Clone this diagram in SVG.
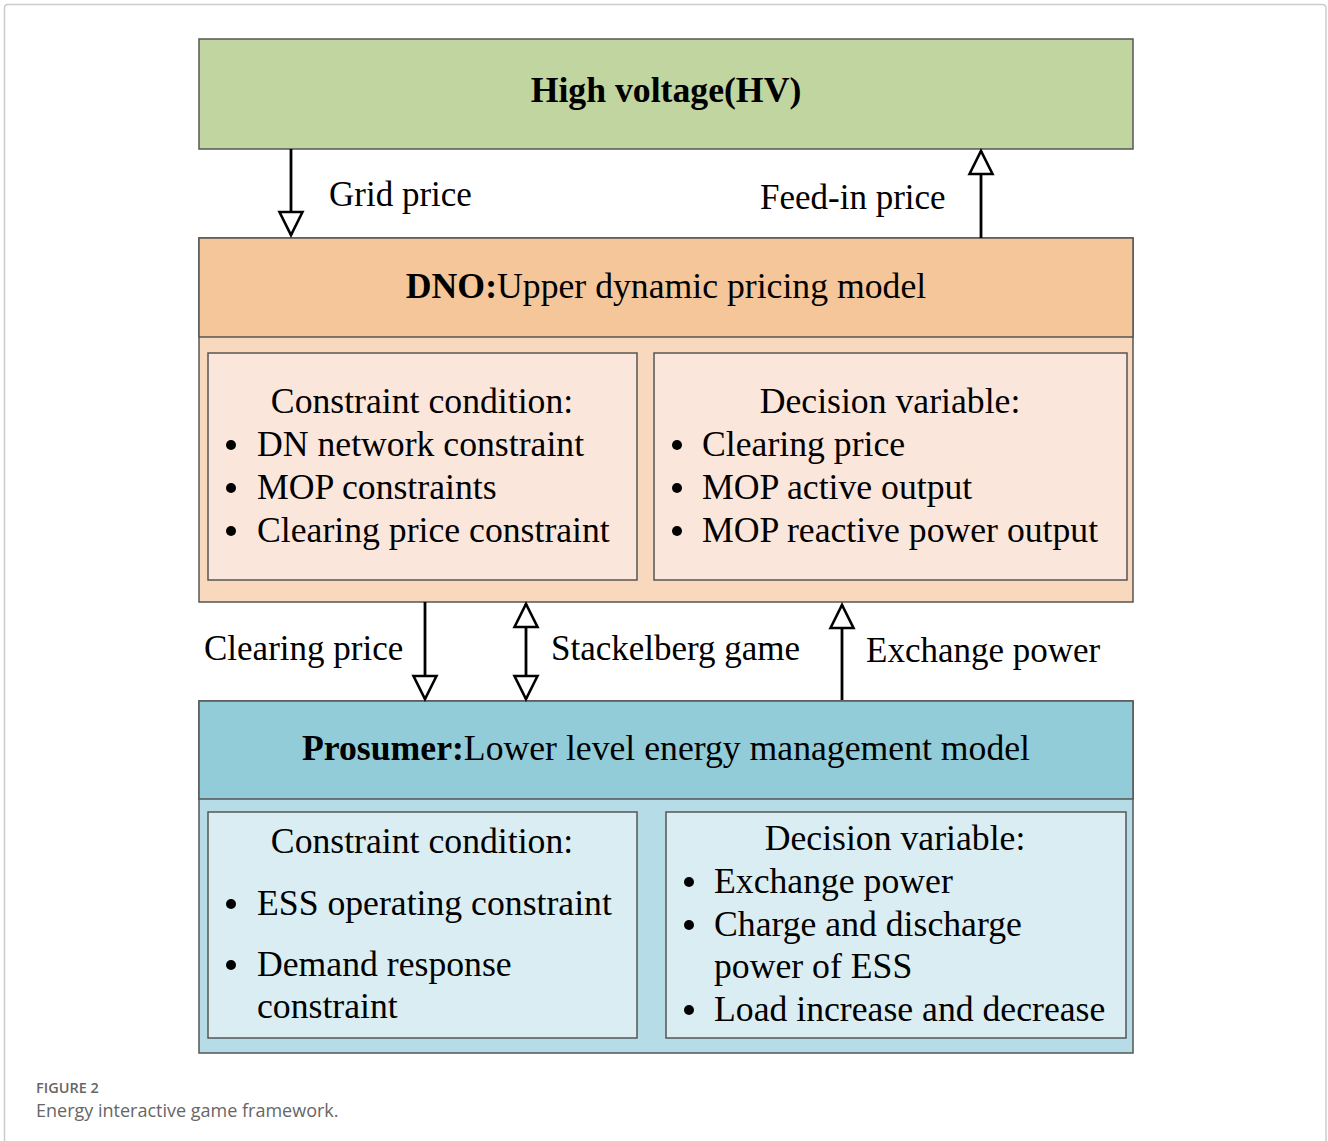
<svg xmlns="http://www.w3.org/2000/svg" width="1328" height="1141" viewBox="0 0 1328 1141">
<style>
.t{font-family:"Liberation Serif","Times New Roman",serif;font-size:35.7px;fill:#000}
.l{font-size:35px}
.c{text-anchor:middle}
.b{font-weight:bold}
.box{stroke:#555;stroke-width:1.5}
.conn{stroke:#000;stroke-width:2.8;fill:none}
.cap{font-family:"Open Sans","Noto Sans",sans-serif;fill:#666}
</style>
<defs>
<marker id="ah" markerUnits="userSpaceOnUse" markerWidth="30" markerHeight="30" refX="25" refY="13" orient="auto-start-reverse" overflow="visible">
<path d="M2,1.5 L25,13 L2,24.5 Z" fill="#fff" stroke="#000" stroke-width="2.6" stroke-linejoin="miter"/>
</marker>
</defs>
<rect x="0" y="0" width="1328" height="1141" fill="#fff"/>
<path d="M4.5,1141 V8 Q4.5,4.5 8,4.5 H1322 Q1326,4.5 1326,8 V1141" fill="none" stroke="#ccc" stroke-width="1.5"/>

<g id="hv">
<rect class="box" x="199" y="39" width="934" height="110" fill="#c0d59f"/>
<text class="t c b" x="666" y="102">High voltage(HV)</text>
</g>

<g id="dno">
<rect class="box" x="199" y="238" width="934" height="364" fill="#f9d9bd"/>
<rect class="box" x="199" y="238" width="934" height="99" fill="#f4c69a"/>
<text class="t c" x="666" y="298"><tspan class="b">DNO:</tspan>Upper dynamic pricing model</text>
</g>

<g id="dno-constraint">
<rect class="box" x="208" y="353" width="429" height="227" fill="#fbe6dc"/>
<text class="t c" x="422" y="413">Constraint condition:</text>
<circle cx="231" cy="445" r="5"/><text class="t" x="257" y="456">DN network constraint</text>
<circle cx="231" cy="488" r="5"/><text class="t" x="257" y="499">MOP constraints</text>
<circle cx="231" cy="531" r="5"/><text class="t" x="257" y="542">Clearing price constraint</text>
</g>

<g id="dno-decision">
<rect class="box" x="654" y="353" width="473" height="227" fill="#fbe6dc"/>
<text class="t c" x="890" y="413">Decision variable:</text>
<circle cx="677" cy="445" r="5"/><text class="t" x="702" y="456">Clearing price</text>
<circle cx="677" cy="488" r="5"/><text class="t" x="702" y="499">MOP active output</text>
<circle cx="677" cy="531" r="5"/><text class="t" x="702" y="542">MOP reactive power output</text>
</g>

<g id="prosumer">
<rect class="box" x="199" y="701" width="934" height="352" fill="#b6dde7"/>
<rect class="box" x="199" y="701" width="934" height="98" fill="#92ccd9"/>
<text class="t c" x="666" y="760"><tspan class="b">Prosumer:</tspan>Lower level energy management model</text>
</g>

<g id="pro-constraint">
<rect class="box" x="208" y="812" width="429" height="226" fill="#daedf2"/>
<text class="t c" x="422" y="853">Constraint condition:</text>
<circle cx="231" cy="904" r="5"/><text class="t" x="257" y="915">ESS operating constraint</text>
<circle cx="231" cy="965" r="5"/><text class="t" x="257" y="976">Demand response</text>
<text class="t" x="257" y="1018">constraint</text>
</g>

<g id="pro-decision">
<rect class="box" x="666" y="812" width="460" height="226" fill="#daedf2"/>
<text class="t c" x="895" y="850">Decision variable:</text>
<circle cx="689" cy="882" r="5"/><text class="t" x="714" y="893">Exchange power</text>
<circle cx="689" cy="925" r="5"/><text class="t" x="714" y="936">Charge and discharge</text>
<text class="t" x="714" y="978">power of ESS</text>
<circle cx="689" cy="1010" r="5"/><text class="t" x="714" y="1021">Load increase and decrease</text>
</g>

<g id="connectors">
<line class="conn" x1="291" y1="149" x2="291" y2="235" marker-end="url(#ah)"/>
<line class="conn" x1="981" y1="238" x2="981" y2="151" marker-end="url(#ah)"/>
<line class="conn" x1="425" y1="602" x2="425" y2="699" marker-end="url(#ah)"/>
<line class="conn" x1="526" y1="604" x2="526" y2="699" marker-start="url(#ah)" marker-end="url(#ah)"/>
<line class="conn" x1="842" y1="700" x2="842" y2="605" marker-end="url(#ah)"/>
<text class="t l" x="329" y="206">Grid price</text>
<text class="t l" x="760" y="209">Feed-in price</text>
<text class="t l" x="204" y="660">Clearing price</text>
<text class="t l" x="551" y="660">Stackelberg game</text>
<text class="t l" x="866" y="662">Exchange power</text>
</g>

<text class="cap" x="36" y="1093" font-size="14.5" font-weight="600">FIGURE 2</text>
<text class="cap" x="36" y="1117" font-size="18">Energy interactive game framework.</text>
</svg>
